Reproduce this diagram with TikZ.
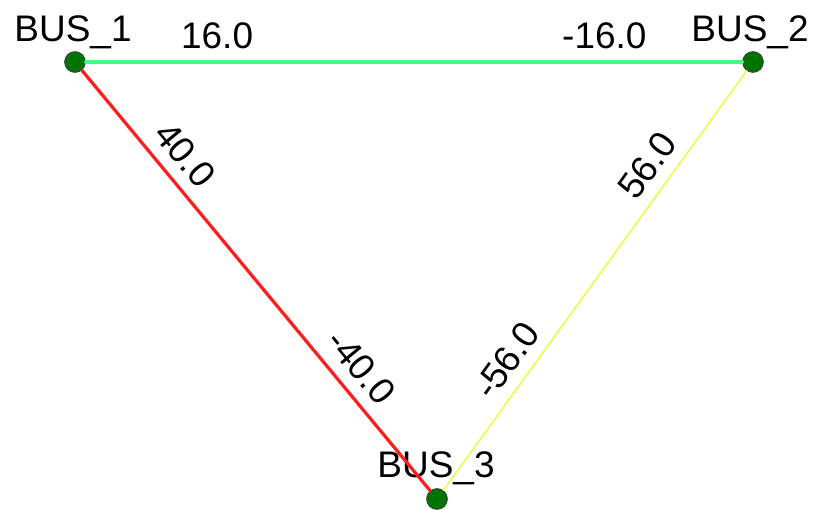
\documentclass[tikz,border=0pt]{standalone}
\usepackage{fontspec}
\setmainfont{Liberation Sans}
\usepackage{xcolor}
\definecolor{busfill}{RGB}{0,115,0}
\definecolor{flowgreen}{RGB}{64,255,128}
\definecolor{flowred}{RGB}{255,30,30}
\definecolor{flowyellow}{RGB}{225,255,60}

\begin{document}
\begin{tikzpicture}[font=\fontsize{26.3}{30}\selectfont,line cap=round,
  bus/.style={circle,fill=busfill,draw=black!75,line width=0.6pt,inner sep=0pt,minimum size=0.52cm},
  buslabel/.style={anchor=base,inner sep=0pt},
  flow/.style={sloped,above=0.28cm,inner sep=0pt,text=black},
  greenline/.style={flowgreen,line width=2.4pt},
  redline/.style={flowred,line width=2.3pt},
  yellowline/.style={flowyellow,line width=1.1pt,dash pattern=on 2.2pt off 0.6pt}]
\useasboundingbox (0,0) rectangle (20.45,12.725);
% buses
\node[bus] (b1) at (1.875,11.175) {};
\node[bus] (b2) at (18.825,11.175) {};
\node[bus] (b3) at (10.925,0.25) {};
\node[buslabel] (l1) at (1.825,11.675) {BUS\_1};
\node[buslabel] (l2) at (18.75,11.675) {BUS\_2};
\node[buslabel] (l3) at (10.9,0.8) {BUS\_3};
% branches
\draw[greenline] (b1) -- node[flow,pos=0.2]{16.0} node[flow,pos=0.79]{-16.0} (b2);
\draw[redline] (b1) -- node[flow,pos=0.24]{40.0} node[flow,pos=0.745]{-40.0} (b3);
\draw[yellowline] (b3) -- node[flow,pos=0.275]{-56.0} node[flow,pos=0.74]{56.0} (b2);
\end{tikzpicture}
\end{document}
